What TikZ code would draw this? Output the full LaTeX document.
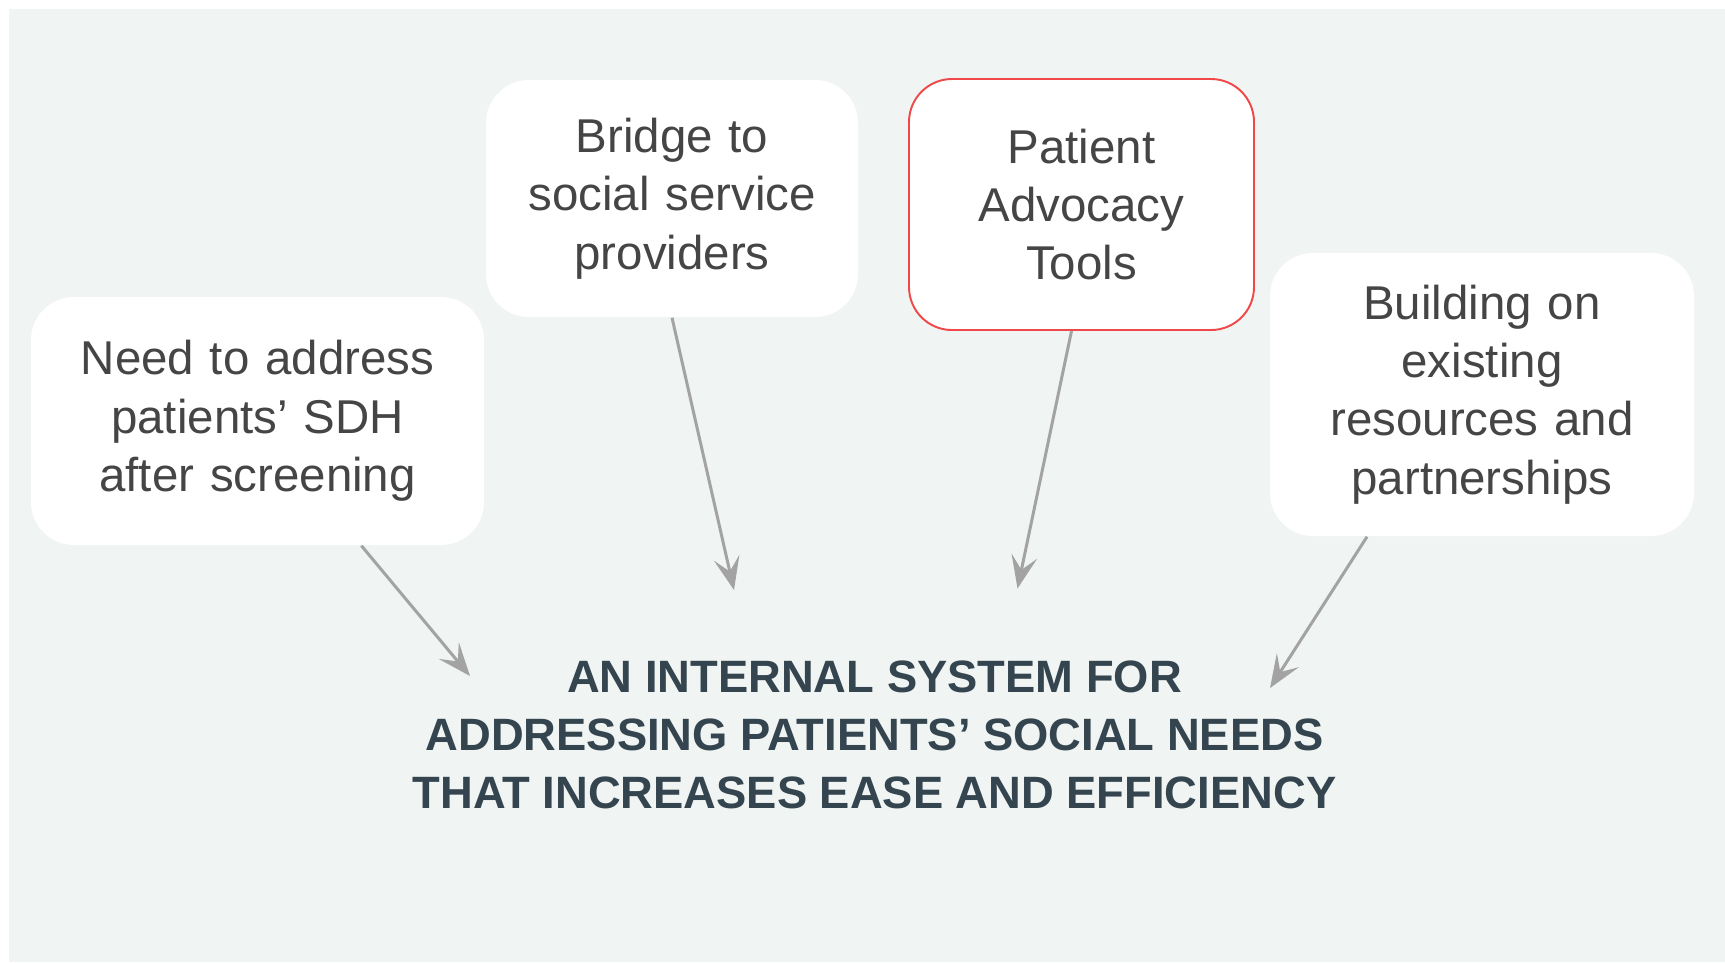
\documentclass[tikz,border=0pt]{standalone}
\usepackage{fontspec}
\setmainfont{Liberation Sans}
\usetikzlibrary{
  arrows.meta
}
\definecolor{paneBg}{HTML}{F0F4F3}
\definecolor{arrowGray}{HTML}{A3A3A3}
\definecolor{cardText}{HTML}{454545}
\definecolor{titleSlate}{HTML}{34454F}
\definecolor{toolRed}{HTML}{F04848}

\begin{document}
\begin{tikzpicture}[
    x=0.1mm,
    y=-0.1mm,
    card/.style={fill=white,rounded corners=4.3mm,inner sep=0pt,align=center,
      text=cardText,font=\fontsize{13.5}{16.6}\selectfont},
    feed/.style={arrowGray,line width=0.85pt,
      -{Stealth[length=3.3mm,width=2.6mm,inset=1.4mm]}},
  ]
  \useasboundingbox (0,0) rectangle (1725,962);
  \fill[paneBg] (9,9) rectangle (1725,962);

  \node[card,text width=45.3mm,minimum height=24.8mm] (need) at (257.5,421)
    {Need to address\\patients’ SDH\\after screening};
  \node[card,text width=37.2mm,minimum height=23.7mm] (bridge) at (672,198.5)
    {Bridge to\\social service\\providers};
  \node[card,draw=toolRed,line width=0.55pt,text width=34.5mm,minimum height=25.1mm]
    (tools) at (1081.5,204.5) {Patient\\Advocacy\\Tools};
  \node[card,text width=42.4mm,minimum height=28.3mm] (building) at (1482,394.5)
    {Building on\\existing\\resources and\\partnerships};

  \node[align=center,text=titleSlate,font=\bfseries\fontsize{12.9}{16.5}\selectfont]
    (system) at (874.5,735)
    {AN INTERNAL SYSTEM FOR\\ADDRESSING PATIENTS’ SOCIAL NEEDS\\THAT INCREASES EASE AND EFFICIENCY};

  \coordinate (tipA) at (470,676);
  \coordinate (tipB) at (734,590);
  \coordinate (tipC) at (1017.5,588.5);
  \coordinate (tipD) at (1270,688);

  \draw[feed] (need) -- (tipA);
  \draw[feed] (bridge.south) -- (tipB);
  \draw[feed] ([xshift=-1mm]tools.south) -- (tipC);
  \draw[feed] ([xshift=-11.5mm]building.south) -- (tipD);
\end{tikzpicture}
\end{document}
